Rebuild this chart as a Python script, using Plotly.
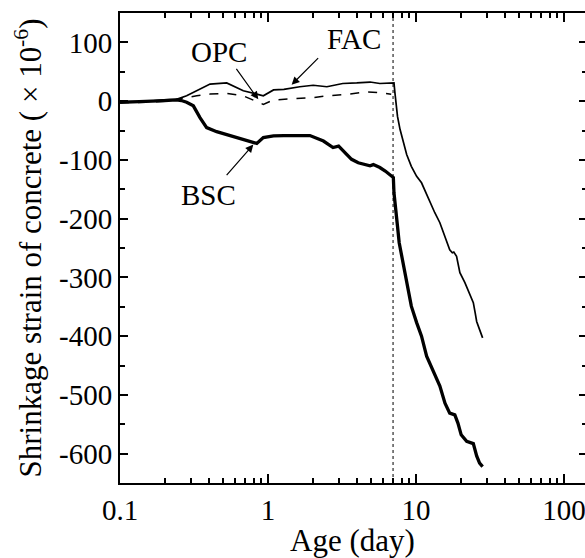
import math
import plotly.graph_objects as go

# ---------------- data ----------------
fac_age = [0.1, 0.15, 0.196, 0.241, 0.282, 0.347, 0.406, 0.526, 0.58, 0.681, 0.839, 0.93,
           1.09, 1.28, 1.64, 2.02, 2.5, 3.2, 3.98, 4.89, 5.7, 6.5, 7.1,
           7.2, 7.3, 7.5, 7.8, 8.2, 8.65, 9.3, 10.1, 10.9, 11.5, 12.4, 13.4, 14.5, 15.7,
           16.9, 17.6, 18.0, 18.8, 19.8, 21.4, 22.6, 23.9, 24.4, 25.1, 25.7, 26.9, 28.2]
fac_strain = [-1, -1, 2, 3, 9, 20, 29, 31, 26, 17.6, 12, 9,
              19, 20, 24.5, 27, 24.5, 30, 31, 32.5, 30, 31, 31,
              14.8, -3, -26, -48, -71, -91, -111, -128, -139, -153, -173, -190, -207, -230,
              -253, -258, -257, -264, -292, -309, -323, -338, -343, -360, -375, -389, -403]

opc_age = [0.1, 0.15, 0.207, 0.241, 0.33, 0.406, 0.526, 0.68, 0.84, 0.93, 1.09, 1.28,
           1.48, 2.02, 2.5, 3.4, 4.6, 5.7, 6.8]
opc_strain = [-2.5, -2, 0, 3, 9, 12, 13, 9, 0, -5.6, 2, 3,
              4, 6, 9, 11.6, 15.5, 14.5, 11.6]

bsc_age = [0.1, 0.15, 0.2, 0.241, 0.26, 0.282, 0.313, 0.347, 0.385, 0.45, 0.58, 0.79, 0.84,
           0.93, 1.09, 1.28, 1.92, 2.37, 2.75, 3.0, 3.67, 4.07, 4.89, 5.15, 5.7, 6.2, 6.67, 7.03,
           7.1, 7.25, 7.5, 7.7, 8.0, 8.2, 8.65, 9.3, 10.1, 10.9, 11.8, 13.0, 14.5, 15.7, 16.9,
           18.3, 19.2, 20.2, 22.0, 24.4, 25.7, 26.9, 28.2]
bsc_strain = [-2, -1, 1, 2, 1, -2, -8, -28, -45, -52, -60, -70, -72,
              -62, -59, -58.6, -58.6, -68, -79, -76.5, -99, -105, -110, -108, -113, -119, -125, -130,
              -156, -184, -213, -241, -262, -280, -309, -349, -377, -400, -434, -457, -485, -514, -531,
              -534, -548, -568, -579, -583, -604, -616, -622]

curing_end_day = 7  # dotted vertical line

x_tickvals = [0.1, 1, 10, 100]
x_ticktext = ["0.1", "1", "10", "100"]
x_minor_vals = [m * d for d in (0.1, 1, 10, 100) for m in range(2, 10)]
y_tickvals = [-600, -500, -400, -300, -200, -100, 0, 100]
y_ticktext = ["-600", "-500", "-400", "-300", "-200", "-100", "0", "100"]

labels = ["OPC", "FAC", "BSC"]

# ---------------- figure ----------------
FONT = "Liberation Serif"
fig = go.Figure()

fig.add_trace(go.Scatter(x=[curing_end_day, curing_end_day], y=[-650, 150], mode="lines",
                         line=dict(color="#555555", width=1.5, dash="dot"), showlegend=False))
fig.add_trace(go.Scatter(x=opc_age, y=opc_strain, mode="lines", name="OPC",
                         line=dict(color="black", width=1.5, dash="dash"), showlegend=False))
fig.add_trace(go.Scatter(x=fac_age, y=fac_strain, mode="lines", name="FAC",
                         line=dict(color="black", width=1.7), showlegend=False))
fig.add_trace(go.Scatter(x=bsc_age, y=bsc_strain, mode="lines", name="BSC",
                         line=dict(color="black", width=3.3), showlegend=False))
# invisible trace on the right axis so that it carries the mirrored ticks
fig.add_trace(go.Scatter(x=[1], y=[0], yaxis="y2", mode="markers", marker=dict(opacity=0),
                         showlegend=False, hoverinfo="skip"))

x_range = [-1, 2.142]
y_range = [-650, 150]

fig.update_layout(
    template="none",
    width=585, height=558,
    margin=dict(l=120, r=0, t=13, b=75, pad=0),
    paper_bgcolor="white", plot_bgcolor="white",
    font=dict(family=FONT, size=29, color="black"),
    xaxis=dict(type="log", range=x_range, tickvals=x_tickvals, ticktext=x_ticktext,
               automargin=False, ticklabeloverflow="allow",
               showgrid=False, zeroline=False, showline=True, linecolor="black", linewidth=2,
               mirror="ticks", ticks="inside", ticklen=9, tickwidth=2, tickcolor="black",
               minor=dict(tickvals=x_minor_vals, ticks="inside", ticklen=5, tickwidth=1.5,
                          tickcolor="black", showgrid=False),
               title=dict(text="Age (day)", font=dict(family=FONT, size=31), standoff=2),
               tickfont=dict(family=FONT, size=29)),
    yaxis=dict(range=y_range, tickvals=y_tickvals, ticktext=y_ticktext,
               automargin=False, ticklabeloverflow="allow",
               showgrid=False, zeroline=False, showline=True, linecolor="black", linewidth=2,
               ticks="inside", ticklen=8, tickwidth=2, tickcolor="black",
               minor=dict(dtick=50, ticks="inside", ticklen=5, tickwidth=1.5,
                          tickcolor="black", showgrid=False),
               title=dict(text="Shrinkage strain of concrete ( × 10<sup>-6</sup>)",
                          font=dict(family=FONT, size=31), standoff=8),
               tickfont=dict(family=FONT, size=29)),
    yaxis2=dict(range=y_range, overlaying="y", side="right", tickvals=y_tickvals,
                automargin=False,
                showticklabels=False, showgrid=False, zeroline=False, showline=False,
                ticks="inside", ticklen=6, tickwidth=2, tickcolor="black",
                minor=dict(dtick=50, ticks="inside", ticklen=3, tickwidth=1.5,
                           tickcolor="black", showgrid=False)),
)

# text labels
label_pos = {"OPC": (-0.331, 83), "FAC": (0.581, 105), "BSC": (-0.405, -159)}
for lab in labels:
    lx, ly = label_pos[lab]
    fig.add_annotation(x=lx, y=ly, text=lab, showarrow=False,
                       font=dict(family=FONT, size=29, color="black"),
                       xanchor="center", yanchor="middle")

# arrows: head at curve, tail offsets in pixels
arrow_heads = {"OPC": (0.86, 3, -23, -32), "FAC": (1.445, 28, 28, -28), "BSC": (0.796, -74, -28, 32)}
for lab in labels:
    hx, hy, axp, ayp = arrow_heads[lab]
    fig.add_annotation(x=math.log10(hx), y=hy, ax=axp, ay=ayp, text="",
                       showarrow=True, arrowhead=2, arrowsize=1.3, arrowwidth=1.2,
                       arrowcolor="black", standoff=0, startstandoff=0)

fig.write_html("out.html", config={"displayModeBar": False},
               post_script="document.body.style.margin='0px';document.body.style.overflow='hidden';")
